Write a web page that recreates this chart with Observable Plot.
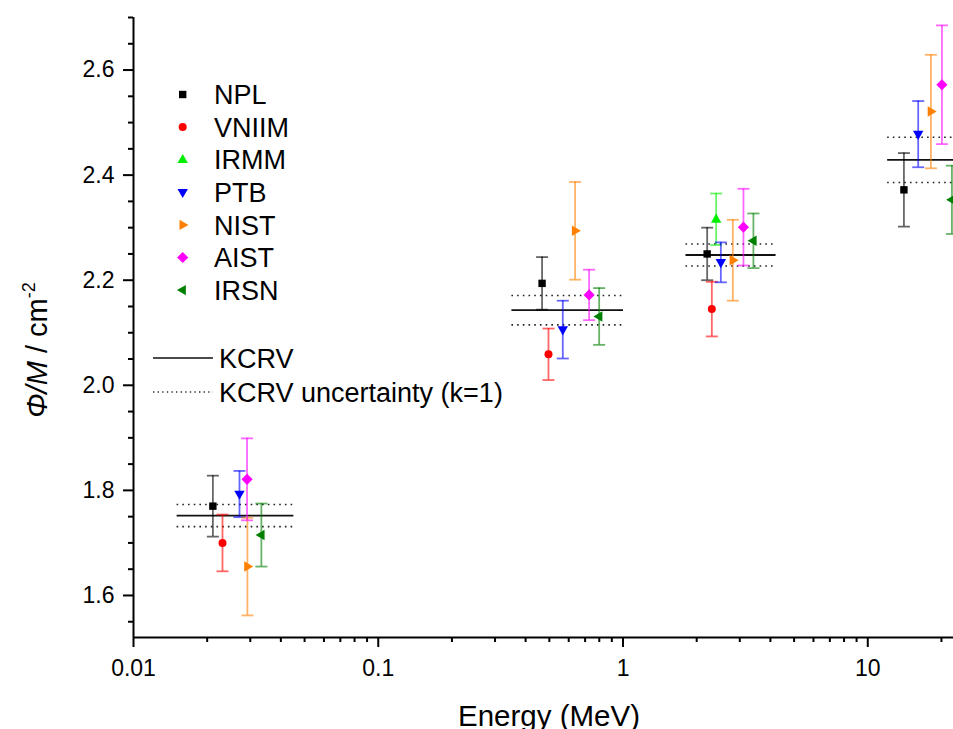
<!DOCTYPE html>
<html><head><meta charset="utf-8">
<script src="https://cdn.jsdelivr.net/npm/d3@7"></script>
<script src="https://cdn.jsdelivr.net/npm/@observablehq/plot@0.6"></script>
<style>
body{margin:0;background:#fff;}
#chart{position:relative;width:953px;height:729px;overflow:hidden;}
</style>
</head><body><div id="chart"></div>
<script>
// ---- data ----
const labs = ["NPL", "VNIIM", "IRMM", "PTB", "NIST", "AIST", "IRSN"];
const colors = ["#000000", "#ff0000", "#00ee00", "#0000ff", "#ff8000", "#ff00ff", "#008000"];

const NPL_E = [0.0211, 0.467, 2.207, 14.05];
const NPL_V = [1.770, 2.194, 2.250, 2.372];
const NPL_U = [0.058, 0.050, 0.050, 0.070];

const VNIIM_E = [0.0231, 0.496, 2.306];
const VNIIM_V = [1.700, 2.059, 2.145];
const VNIIM_U = [0.054, 0.049, 0.052];

const IRMM_E = [2.402];
const IRMM_V = [2.316];
const IRMM_U = [0.049];

const PTB_E = [0.0271, 0.5675, 2.51, 16.07];
const PTB_V = [1.793, 2.106, 2.234, 2.478];
const PTB_U = [0.044, 0.055, 0.038, 0.063];

const NIST_E = [0.0292, 0.637, 2.81, 18.11];
const NIST_V = [1.655, 2.294, 2.238, 2.521];
const NIST_U = [0.093, 0.093, 0.077, 0.108];

const AIST_E = [0.0291, 0.727, 3.105, 20.09];
const AIST_V = [1.821, 2.172, 2.301, 2.572];
const AIST_U = [0.078, 0.048, 0.073, 0.113];

const IRSN_E = [0.0333, 0.799, 3.41, 22.07];
const IRSN_V = [1.715, 2.131, 2.275, 2.353];
const IRSN_U = [0.060, 0.054, 0.052, 0.065];

// KCRV per energy group
const kcrvFrom = [0.015, 0.35, 1.8, 12];
const kcrvTo = [0.045, 1.0, 4.2, 25];
const kcrvV = [1.752, 2.143, 2.248, 2.429];
const kcrvU = [0.021, 0.028, 0.021, 0.043];

// ticks
const xMajor = [0.01, 0.1, 1, 10];
const xMinor = [0.02,0.03,0.04,0.05,0.06,0.07,0.08,0.09,0.2,0.3,0.4,0.5,0.6,0.7,0.8,0.9,2,3,4,5,6,7,8,9,20];
const yMajor = [1.6, 1.8, 2.0, 2.2, 2.4, 2.6];
const yMinor = [1.55, 1.65, 1.7, 1.75, 1.85, 1.9, 1.95, 2.05, 2.1, 2.15, 2.25, 2.3, 2.35, 2.45, 2.5, 2.55, 2.65, 2.7];

// ---- symbols ----
function poly(pts) {
  return {draw(ctx, size) {
    const k = Math.sqrt(size / Math.PI) / 5;
    ctx.moveTo(pts[0][0]*k, pts[0][1]*k);
    for (let i = 1; i < pts.length; i++) ctx.lineTo(pts[i][0]*k, pts[i][1]*k);
    ctx.closePath();
  }};
}
const symSquare = poly([[-3.7,-3.7],[3.7,-3.7],[3.7,3.7],[-3.7,3.7]]);
const symCircle = {draw(ctx, size) { const k = Math.sqrt(size/Math.PI)/5; const r = 4*k; ctx.moveTo(r,0); ctx.arc(0,0,r,0,2*Math.PI); }};
const symUp = poly([[0,-5.8],[5.2,3.4],[-5.2,3.4]]);
const symDown = poly([[0,5.8],[5.2,-3.4],[-5.2,-3.4]]);
const symRight = poly([[5.8,0],[-3.2,-5.2],[-3.2,5.2]]);
const symLeft = poly([[-5.8,0],[3.2,-5.2],[3.2,5.2]]);
const symDiamond = poly([[0,-5.6],[5.6,0],[0,5.6],[-5.6,0]]);
const symCap = {draw(ctx, size) { const w = Math.sqrt(size/Math.PI); ctx.moveTo(-w,0); ctx.lineTo(w,0); }};
const symbols = [symSquare, symCircle, symUp, symDown, symRight, symDiamond, symLeft];

const series = [
  [NPL_E, NPL_V, NPL_U], [VNIIM_E, VNIIM_V, VNIIM_U], [IRMM_E, IRMM_V, IRMM_U],
  [PTB_E, PTB_V, PTB_U], [NIST_E, NIST_V, NIST_U], [AIST_E, AIST_V, AIST_U], [IRSN_E, IRSN_V, IRSN_U]
];
const kcrv = kcrvV.map((v, i) => ({e1: kcrvFrom[i], e2: kcrvTo[i], v, u: kcrvU[i]}));

const marks = [];
marks.push(Plot.link(kcrv, {x1: "e1", x2: "e2", y1: d => d.v + d.u, y2: d => d.v + d.u, stroke: "#222", strokeWidth: 1.6, strokeDasharray: "1.6,4.1"}));
marks.push(Plot.link(kcrv, {x1: "e1", x2: "e2", y1: d => d.v - d.u, y2: d => d.v - d.u, stroke: "#222", strokeWidth: 1.6, strokeDasharray: "1.6,4.1"}));
marks.push(Plot.link(kcrv, {x1: "e1", x2: "e2", y1: "v", y2: "v", stroke: "#111", strokeWidth: 1.8}));

series.forEach(([E, V, U], i) => {
  const rows = E.map((e, j) => ({e, v: V[j], u: U[j]}));
  const c = colors[i];
  marks.push(Plot.ruleX(rows, {x: "e", y1: d => d.v - d.u, y2: d => d.v + d.u, stroke: c, strokeWidth: 1.8, strokeOpacity: 0.6}));
  marks.push(Plot.dot(rows, {x: "e", y: d => d.v + d.u, symbol: symCap, r: 6, stroke: c, fill: "none", strokeWidth: 1.8, strokeOpacity: 0.6}));
  marks.push(Plot.dot(rows, {x: "e", y: d => d.v - d.u, symbol: symCap, r: 6, stroke: c, fill: "none", strokeWidth: 1.8, strokeOpacity: 0.6}));
});
series.forEach(([E, V, U], i) => {
  const rows = E.map((e, j) => ({e, v: V[j], u: U[j]}));
  marks.push(Plot.dot(rows, {x: "e", y: "v", symbol: symbols[i], r: 5, fill: colors[i], stroke: "none"}));
});

// axes
marks.push(Plot.axisX({ticks: xMinor, tickSize: 5, tickFormat: () => "", strokeWidth: 2, label: null}));
marks.push(Plot.axisX({ticks: xMajor, tickSize: 10, tickPadding: 12, tickFormat: d => String(d), strokeWidth: 2, label: null}));
marks.push(Plot.axisY({ticks: yMinor, tickSize: 5, tickFormat: () => "", strokeWidth: 2, label: null}));
marks.push(Plot.axisY({ticks: yMajor, tickSize: 10, tickPadding: 9, tickFormat: d3.format(".1f"), strokeWidth: 2, label: null}));
marks.push(Plot.ruleX([0.01], {strokeWidth: 2, stroke: "#000"}));
marks.push(Plot.ruleY([1.52], {strokeWidth: 2, stroke: "#000"}));

const chart = Plot.plot({
  width: 953,
  height: 729,
  marginLeft: 133,
  marginRight: 0,
  marginTop: 17,
  marginBottom: 92,
  style: {fontFamily: "'Liberation Sans', Arial, sans-serif", fontSize: "23px", color: "#000", background: "#fff", overflow: "hidden"},
  x: {type: "log", domain: [0.01, 22.4]},
  y: {domain: [1.52, 2.70]},
  marks
});
document.getElementById("chart").appendChild(chart);

// titles and legend
const svg = d3.select(chart);
svg.append("text")
  .attr("x", 549).attr("y", 726)
  .attr("text-anchor", "middle")
  .attr("font-size", 29.5)
  .attr("fill", "#000")
  .text("Energy (MeV)");

const yt = svg.append("text")
  .attr("transform", "translate(47,350) rotate(-90)")
  .attr("text-anchor", "middle")
  .attr("font-size", 29)
  .attr("fill", "#000");
yt.append("tspan").attr("font-style", "italic").text("Φ/M");
yt.append("tspan").text(" / cm");
yt.append("tspan").attr("font-size", 18).attr("dy", -12).text("-2");

const lg = svg.append("g").attr("text-anchor", "start");
labs.forEach((lab, i) => {
  const y = 94.5 + i * 32.6;
  lg.append("path")
    .attr("transform", `translate(182.7,${y})`)
    .attr("d", d3.symbol(symbols[i], 25 * Math.PI)())
    .attr("fill", colors[i]);
  lg.append("text").attr("x", 214).attr("y", y).attr("dy", "0.36em")
    .attr("text-anchor", "start")
    .attr("font-size", 27).attr("fill", "#000").text(lab);
});
const ky = [358, 392];
lg.append("line").attr("x1", 153).attr("x2", 213).attr("y1", ky[0]).attr("y2", ky[0]).attr("stroke", "#111").attr("stroke-width", 1.6);
lg.append("line").attr("x1", 153).attr("x2", 213).attr("y1", ky[1]).attr("y2", ky[1]).attr("stroke", "#333").attr("stroke-width", 1.5).attr("stroke-dasharray", "1.4,3.2");
lg.append("text").attr("x", 219).attr("y", ky[0]).attr("dy", "0.36em").attr("text-anchor", "start").attr("font-size", 27).attr("fill", "#000").text("KCRV");
lg.append("text").attr("x", 219).attr("y", ky[1]).attr("dy", "0.36em").attr("text-anchor", "start").attr("font-size", 27).attr("fill", "#000").text("KCRV uncertainty (k=1)");
</script>
</body></html>
